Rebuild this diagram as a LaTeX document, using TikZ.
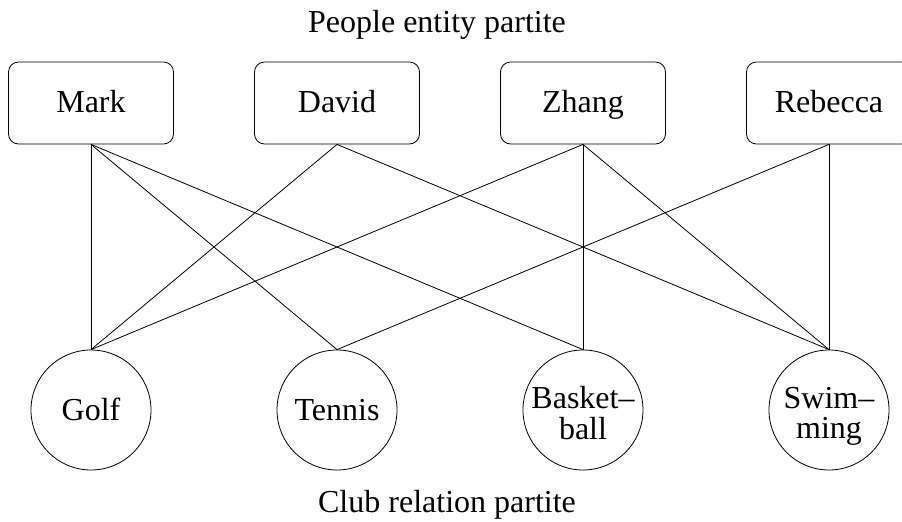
\documentclass[tikz,border=0pt]{standalone}
\usepackage{fontspec}
\setmainfont{Liberation Serif}
\usepackage{tikz}

\tikzset{
  person/.style={draw, rounded corners=5pt, minimum width=82.5pt, minimum height=41pt, text height=12pt, text depth=3pt, font=\fontsize{16}{15}\selectfont},
  club/.style={draw, circle, minimum size=60pt, inner sep=0pt, text height=11pt, text depth=1pt, font=\fontsize{16}{15}\selectfont},
  longclub/.style={club, text height=16pt, text depth=0pt},
  partite/.style={anchor=base, font=\fontsize{16}{15}\selectfont}
}

\begin{document}
\begin{tikzpicture}[x=0.5pt,y=-0.5pt]
\useasboundingbox (0,0) rectangle (902,521);
\node[partite] (top) at (437,32) {People entity partite};
\node[partite] (bottom) at (447,512) {Club relation partite};

\node[person] (Mark) at (91,103) {Mark};
\node[person] (David) at (337,103) {David};
\node[person] (Zhang) at (583,103) {Zhang};
\node[person] (Rebecca) at (829,103) {Rebecca};

\node[club] (Golf) at (91,410) {Golf};
\node[club] (Tennis) at (337,410) {Tennis};
\node[longclub] (Basketball) at (583,410) {
\begin{tabular}{@{}c@{}}
Basket–\\
ball
\end{tabular}
};
\node[longclub] (Swimming) at (829,410) {
\begin{tabular}{@{}c@{}}
Swim–\\
ming
\end{tabular}
};

\draw (Mark.south) -- (Golf.north);
\draw (Mark.south) -- (Tennis.north);
\draw (Mark.south) -- (Basketball.north);
\draw (David.south) -- (Golf.north);
\draw (David.south) -- (Swimming.north);
\draw (Zhang.south) -- (Golf.north);
\draw (Zhang.south) -- (Basketball.north);
\draw (Zhang.south) -- (Swimming.north);
\draw (Rebecca.south) -- (Tennis.north);
\draw (Rebecca.south) -- (Swimming.north);
\end{tikzpicture}
\end{document}
